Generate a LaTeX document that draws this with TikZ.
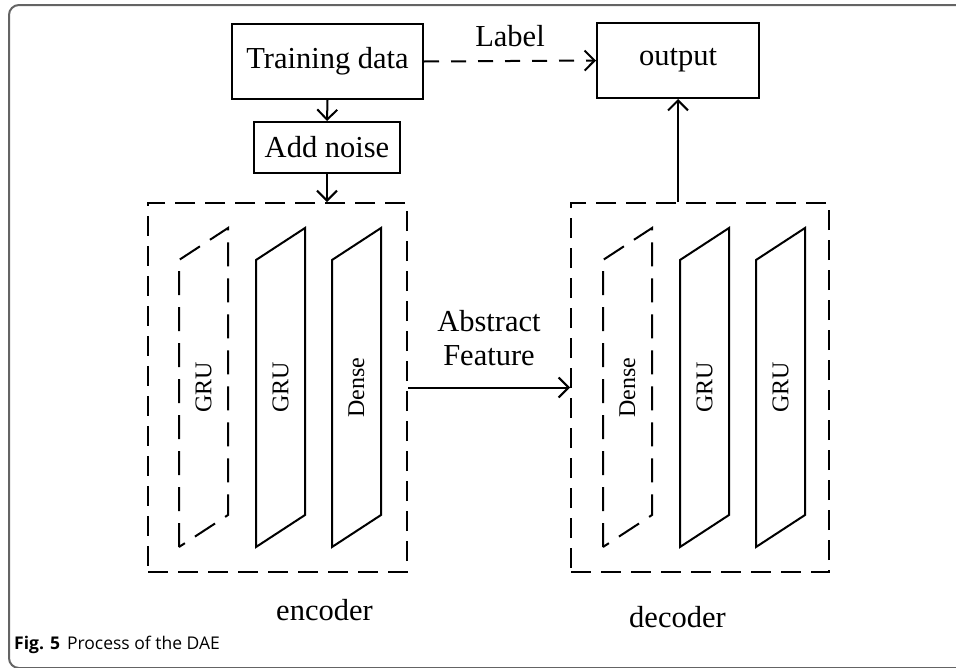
\documentclass[tikz,border=0pt]{standalone}
\usepackage{fontspec}
\setmainfont{Liberation Serif}
\newfontfamily\capfont{Open Sans}
\usetikzlibrary{arrows.meta,positioning}
\definecolor{framegray}{RGB}{100,100,100}
\tikzset{
	blockbox/.style={rectangle, draw, line width=2pt, inner sep=0pt, font=\fontsize{30.5}{34}\selectfont},
	groupbox/.style={rectangle, draw, line width=2pt, dash pattern=on 20pt off 10pt, minimum width=259pt, minimum height=369pt},
	flow/.style={line width=2pt, -{Straight Barb[length=10pt,width=20pt]}},
	layer/.style={line width=2pt, line join=miter},
	layerdash/.style={line width=2pt, dash pattern=on 24pt off 12pt},
	layertext/.style={rotate=90, inner sep=0pt, font=\fontsize{24}{26}\selectfont},
	bigtext/.style={inner sep=0pt, font=\fontsize{30.5}{34}\selectfont}
}

\begin{document}
\begin{tikzpicture}[x=1pt,y=-1pt]
			\clip (0,0) rectangle (956,667);
			% page frame
			\draw[framegray, line width=2pt, rounded corners=10pt] (9,5) rectangle (990,668);
			
			\node[blockbox, minimum width=191pt, minimum height=75pt] (train) at (327.5,61.5) {Training data};
			\node[blockbox, minimum width=146pt, minimum height=51pt] (noise) at (327,147.5) {Add noise};
			\node[blockbox, minimum width=162pt, minimum height=75pt] (out) at (678,60.5) {output};
			\node[groupbox] (enc) at (277.5,387.5) {};
			\node[groupbox, minimum width=258pt] (dec) at (700,387.5) {};
			
			% layers of the encoder
			\foreach \lx/\ltext/\lstyle [count=\i] in {179/GRU/layerdash, 256/GRU/layer, 332/Dense/layer}{
				\draw[\lstyle] (\lx,547) -- (\lx,260) -- (\lx+49,228) -- (\lx+49,515) -- cycle;
				\node[layertext] (enc\i) at (\lx+24.5,387.5) {\ltext};
			}
			% layers of the decoder
			\foreach \lx/\ltext/\lstyle [count=\i] in {603/Dense/layerdash, 680/GRU/layer, 756/GRU/layer}{
				\draw[\lstyle] (\lx,547) -- (\lx,260) -- (\lx+49,228) -- (\lx+49,515) -- cycle;
				\node[layertext] (dec\i) at (\lx+24.5,387.5) {\ltext};
			}
			
			\draw[flow] (train.south) -- (noise.north);
			\draw[flow] (noise.south) -- (noise.south |- enc.north);
			\draw[flow, dash pattern=on 15pt off 12pt] (train.east) -- node[bigtext, above=13pt] (lbl) {Label} (out.west);
			\draw[flow] (dec.north -| out.south) -- (out.south);
			\draw[flow] (enc.east) -- node[bigtext, above=21pt, align=center] (feat) {Abstract\\Feature} (dec.west);
			
			\node[bigtext, anchor=base] (enclbl) at (324.5,620) {encoder};
			\node[bigtext, anchor=base] (declbl) at (677.5,627) {decoder};
			\node[anchor=base west, inner sep=0pt, font=\capfont\fontsize{17.5}{20}\selectfont] (caption) at (14,649) {\textbf{Fig. 5}\hspace{7pt}Process of the DAE};
\end{tikzpicture}
\end{document}
